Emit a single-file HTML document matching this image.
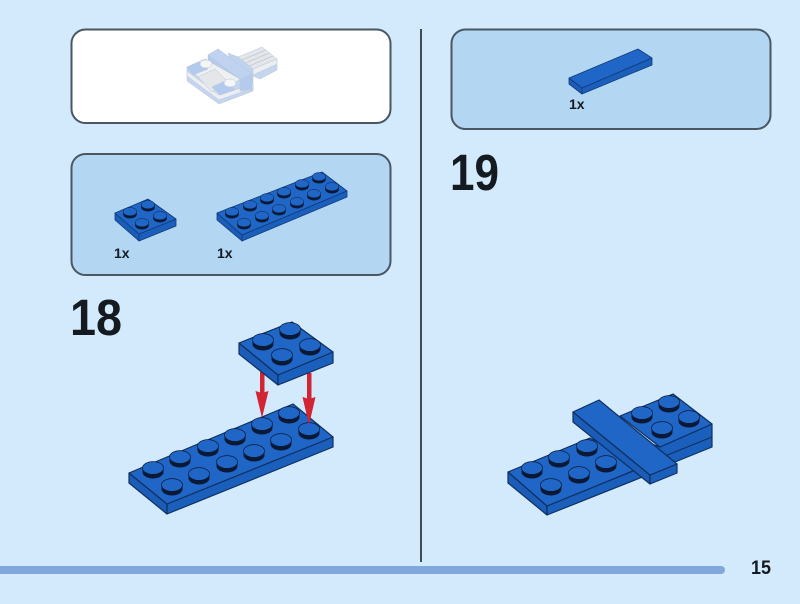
<!DOCTYPE html>
<html><head><meta charset="utf-8"><style>
html,body{margin:0;padding:0;background:#d2eafc}
svg{display:block}
text{font-family:"Liberation Sans",sans-serif;font-weight:700;fill:#141a20}
</style></head><body>
<svg width="800" height="604" viewBox="0 0 800 604" xmlns="http://www.w3.org/2000/svg">
<defs>
<g id="s"><path d="M-10.500 1v4a10.500 6.500 0 0 0 21 0v-4z" fill="#0a1a36"/><ellipse cy="1" rx="10.500" ry="6.400" fill="#1f66c6" stroke="#0a1a36" stroke-width=".7"/></g>
</defs>
<rect width="800" height="604" fill="#d2eafc"/>

<rect x="71.500" y="29.500" width="319" height="93.500" rx="14" fill="#fff" stroke="#4a5661" stroke-width="2"/>
<rect x="71.500" y="154" width="319" height="121" rx="14" fill="#b3d7f3" stroke="#4a5661" stroke-width="2"/>
<rect x="451.500" y="29.500" width="319" height="99.500" rx="14" fill="#b3d7f3" stroke="#4a5661" stroke-width="2"/>
<rect x="420" y="29" width="2" height="533" fill="#414b54"/>
<rect x="-10" y="566" width="735" height="8" rx="4" fill="#80a8dc"/>

<!-- ghosted assembly -->
<g stroke="#b9c6d8" stroke-width=".5" stroke-linejoin="round">
<polygon points="253,69 277,59 277,70 260,79 253,76" fill="#c6d6ee"/>
<polygon points="228,53 238,57 253,69 253,90 240,90" fill="#bfd2ee"/>
<polygon points="238,57 262,47 277,59 253,69" fill="#e3e6ea"/>
<polygon points="253,69 277,59 277,64 253,75" fill="#eceef0"/>
<path d="M242 60l24-10M245.500 63l24-10M249 66l24-10" fill="none" stroke="#a9b2bd"/>
<polygon points="187,67 205,59 253,84 253,91 219,104 187,81" fill="#c3d5ef"/>
<polygon points="187,71 219,95 253,84 253,88 219,100 187,76" fill="#eceef1"/>
<polygon points="187,67 205,59 240,79 219,95" fill="#eef0f2"/>
<polygon points="187,67 200,62 208,69 193,75" fill="#b2caed"/>
<polygon points="198,77 215,69 230,84 212,92" fill="#e4e6ea"/>
<polygon points="212,87 225,81 235,90 220,95" fill="#b2caed"/>
<polygon points="208,55 218,49 252,74 252,89 240,91 240,79 208,60" fill="#b4cbed"/>
<polygon points="208,55 218,49 252,74 240,79" fill="#bfd2f0"/>
<ellipse cx="206" cy="64" rx="6" ry="4" fill="#f3f5f7"/>
<ellipse cx="230" cy="83" rx="6" ry="4" fill="#f3f5f7"/>
</g>

<!-- parts panel -->
<g stroke="#123a78" stroke-width=".8" stroke-linejoin="round">
<polygon points="115,213 139,234 139,241 115,220" fill="#1a5cb8"/>
<polygon points="139,234 176,219 176,226 139,241" fill="#1b5fbc"/>
<polygon points="115,213 148,199 176,219 139,234" fill="#1f66c6"/>
<polygon points="217,213 242,235 242,241 217,220" fill="#1a5cb8"/>
<polygon points="242,235 347,191 347,197 242,241" fill="#1b5fbc"/>
<polygon points="217,213 322,172 347,191 242,235" fill="#1f66c6"/>
<polygon points="569,78 582,88 582,94 569,84" fill="#1a5cb8"/>
<polygon points="582,88 652,58 652,65 582,94" fill="#1b5fbc"/>
<polygon points="569,78 638,49 652,58 582,88" fill="#1f66c6"/>
</g>
<g transform="translate(130,211) scale(.65)"><use href="#s"/></g>
<g transform="translate(148,204) scale(.65)"><use href="#s"/></g>
<g transform="translate(160,215) scale(.65)"><use href="#s"/></g>
<g transform="translate(142,222) scale(.65)"><use href="#s"/></g>
<g transform="translate(232,211) scale(.65)"><use href="#s"/></g>
<g transform="translate(250,204) scale(.65)"><use href="#s"/></g>
<g transform="translate(267,197) scale(.65)"><use href="#s"/></g>
<g transform="translate(284,191) scale(.65)"><use href="#s"/></g>
<g transform="translate(302,183) scale(.65)"><use href="#s"/></g>
<g transform="translate(319,176) scale(.65)"><use href="#s"/></g>
<g transform="translate(244,222) scale(.65)"><use href="#s"/></g>
<g transform="translate(262,215) scale(.65)"><use href="#s"/></g>
<g transform="translate(279,208) scale(.65)"><use href="#s"/></g>
<g transform="translate(297,201) scale(.65)"><use href="#s"/></g>
<g transform="translate(314,193) scale(.65)"><use href="#s"/></g>
<g transform="translate(332,186) scale(.65)"><use href="#s"/></g>

<text x="114" y="258" font-size="14">1x</text>
<text x="217" y="258" font-size="14">1x</text>
<text x="569" y="109" font-size="14">1x</text>

<text x="70" y="335" font-size="51" textLength="52" lengthAdjust="spacingAndGlyphs">18</text>
<text x="450" y="190" font-size="51" textLength="49" lengthAdjust="spacingAndGlyphs">19</text>
<text x="751" y="574" font-size="19" textLength="20" lengthAdjust="spacingAndGlyphs">15</text>

<!-- step 18: long plate -->
<g stroke="#10305f" stroke-width="1.2" stroke-linejoin="round">
<polygon points="129,473 167,504 167,514 129,483" fill="#1a5cb8"/>
<polygon points="167,504 333,437 333,447 167,514" fill="#1b5fbc"/>
<polygon points="129,473 293,404 333,437 167,504" fill="#1f66c6"/>
</g>
<use href="#s" x="153" y="467"/><use href="#s" x="180" y="456"/><use href="#s" x="208" y="445"/><use href="#s" x="235" y="434"/><use href="#s" x="262" y="423"/><use href="#s" x="289" y="412"/>
<use href="#s" x="172" y="484"/><use href="#s" x="199" y="473"/><use href="#s" x="227" y="461"/><use href="#s" x="254" y="450"/><use href="#s" x="281" y="439"/><use href="#s" x="309" y="428"/>
<!-- arrows -->
<g fill="#d22432">
<rect x="260" y="372" width="4.500" height="24"/>
<polygon points="262,418 255.500,391 262,393 268.500,391"/>
<rect x="307" y="373" width="4.500" height="28"/>
<polygon points="309,425 302.500,397 309,399 315.500,397"/>
</g>
<!-- step 18: small plate -->
<g stroke="#10305f" stroke-width="1.2" stroke-linejoin="round">
<polygon points="239,343 278,375 278,385 239,354" fill="#1a5cb8"/>
<polygon points="278,375 333,352 333,363 278,385" fill="#1b5fbc"/>
<polygon points="239,343 292,322 333,352 278,375" fill="#1f66c6"/>
</g>
<use href="#s" x="263" y="339"/><use href="#s" x="290" y="328"/><use href="#s" x="310" y="344"/><use href="#s" x="282" y="354"/>

<!-- step 19 -->
<g stroke="#10305f" stroke-width="1.2" stroke-linejoin="round">
<polygon points="640,440 660,447 712,424 712,447 675,462 650,468" fill="#1b5fbc"/>
<path d="M660 458L712 437" fill="none"/>
<polygon points="620,416 673,394 712,424 660,447" fill="#1f66c6"/>
<polygon points="508,472 547,506 547,515 508,483" fill="#1a5cb8"/>
<polygon points="547,506 645,466 645,476 547,515" fill="#1b5fbc"/>
<polygon points="508,472 590,438 645,466 547,506" fill="#1f66c6"/>
</g>
<use href="#s" x="532" y="467"/><use href="#s" x="559" y="456"/><use href="#s" x="587" y="445"/><use href="#s" x="606" y="461"/><use href="#s" x="579" y="472"/><use href="#s" x="551" y="484"/>
<use href="#s" x="642" y="412"/><use href="#s" x="669" y="401"/><use href="#s" x="689" y="416"/><use href="#s" x="662" y="427"/>
<g stroke="#10305f" stroke-width="1.2" stroke-linejoin="round">
<polygon points="573,412 650,475 650,484 573,422" fill="#1a5cb8"/>
<polygon points="650,475 677,464 677,473 650,484" fill="#1b5fbc"/>
<polygon points="573,412 599,400 677,464 650,475" fill="#1f66c6"/>
</g>
</svg>
</body></html>
